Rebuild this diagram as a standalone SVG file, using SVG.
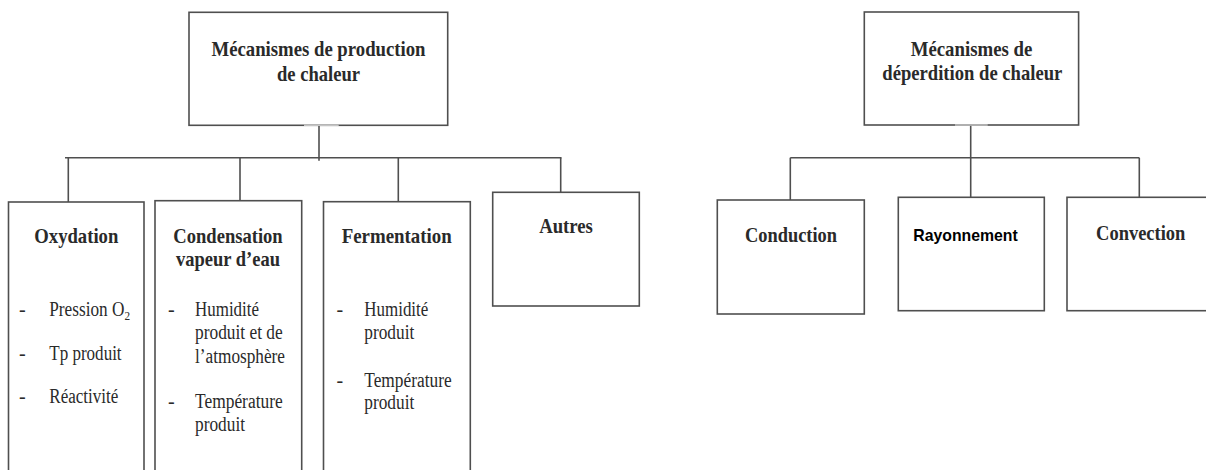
<svg xmlns="http://www.w3.org/2000/svg" width="1206" height="470" viewBox="0 0 1206 470">
<style>
.box{fill:#fff;stroke:#4f4f4f;stroke-width:1.6}
.con line{stroke:#4f4f4f;stroke-width:1.6}
.gap{stroke:#c4c4c4;stroke-width:1.6}
.h{font-family:"Liberation Serif","Times New Roman",serif;font-weight:bold;font-size:22px;fill:#2a2a2a;text-anchor:middle}
.b{font-family:"Liberation Serif","Times New Roman",serif;font-size:20px;fill:#2a2a2a}
.a{font-family:"Liberation Sans",Arial,sans-serif;font-weight:bold;font-size:15.7px;fill:#000}
</style>
<rect width="1206" height="470" fill="#fff"/>
<g id="connectors" class="con">
<line x1="319" y1="125" x2="319" y2="160.7"/>
<line x1="65" y1="157.7" x2="561.5" y2="157.7"/>
<line x1="68.3" y1="157.7" x2="68.3" y2="214"/>
<line x1="240" y1="157.7" x2="240" y2="212.5"/>
<line x1="398.3" y1="157.7" x2="398.3" y2="214"/>
<line x1="560.7" y1="157.7" x2="560.7" y2="212"/>
<line x1="970.7" y1="125" x2="970.7" y2="198.3"/>
<line x1="790.3" y1="157.7" x2="1139.3" y2="157.7"/>
<line x1="790.3" y1="157.7" x2="790.3" y2="200"/>
<line x1="1139.3" y1="157.7" x2="1139.3" y2="199.3"/>
</g>
<g id="prod">
<rect class="box" x="189" y="12.3" width="258.7" height="113"/>
<line class="gap" x1="304" y1="125.3" x2="338.7" y2="125.3"/>
<text class="h" x="318.5" y="56" textLength="214" lengthAdjust="spacingAndGlyphs">Mécanismes de production</text>
<text class="h" x="318.5" y="81" textLength="83" lengthAdjust="spacingAndGlyphs">de chaleur</text>
</g>
<g id="perd">
<rect class="box" x="864.3" y="12" width="214.3" height="113"/>
<line class="gap" x1="955" y1="125" x2="987.7" y2="125"/>
<text class="h" x="971.5" y="56" textLength="121.7" lengthAdjust="spacingAndGlyphs">Mécanismes de</text>
<text class="h" x="972.3" y="80" textLength="180" lengthAdjust="spacingAndGlyphs">déperdition de chaleur</text>
</g>
<g id="oxydation">
<rect class="box" x="8.5" y="202" width="135.5" height="300"/>
<text class="h" x="76.3" y="243" textLength="84" lengthAdjust="spacingAndGlyphs">Oxydation</text>
<text class="b" x="19" y="316">-</text>
<text class="b" x="49.3" y="316" textLength="80.7" lengthAdjust="spacingAndGlyphs">Pression O<tspan font-size="13" dy="4">2</tspan></text>
<text class="b" x="19" y="360">-</text>
<text class="b" x="49.3" y="360" textLength="72.3" lengthAdjust="spacingAndGlyphs">Tp produit</text>
<text class="b" x="19" y="403.3">-</text>
<text class="b" x="49.3" y="403.3" textLength="69" lengthAdjust="spacingAndGlyphs">Réactivité</text>
</g>
<g id="condensation">
<rect class="box" x="155" y="200.7" width="146.7" height="300"/>
<text class="h" x="228" y="243" textLength="109.3" lengthAdjust="spacingAndGlyphs">Condensation</text>
<text class="h" x="228" y="266" textLength="104" lengthAdjust="spacingAndGlyphs">vapeur d’eau</text>
<text class="b" x="168" y="316">-</text>
<text class="b" x="195" y="316" textLength="64" lengthAdjust="spacingAndGlyphs">Humidité</text>
<text class="b" x="195" y="339.3" textLength="87.7" lengthAdjust="spacingAndGlyphs">produit et de</text>
<text class="b" x="195" y="363.3" textLength="90" lengthAdjust="spacingAndGlyphs">l’atmosphère</text>
<text class="b" x="168" y="408.3">-</text>
<text class="b" x="195" y="408.3" textLength="87.7" lengthAdjust="spacingAndGlyphs">Température</text>
<text class="b" x="195" y="430.7" textLength="50" lengthAdjust="spacingAndGlyphs">produit</text>
</g>
<g id="fermentation">
<rect class="box" x="323.5" y="201.7" width="146.8" height="300"/>
<text class="h" x="396.7" y="243" textLength="110" lengthAdjust="spacingAndGlyphs">Fermentation</text>
<text class="b" x="336.5" y="316">-</text>
<text class="b" x="364.3" y="316" textLength="64" lengthAdjust="spacingAndGlyphs">Humidité</text>
<text class="b" x="364.3" y="338.7" textLength="50" lengthAdjust="spacingAndGlyphs">produit</text>
<text class="b" x="336.5" y="386.7">-</text>
<text class="b" x="364.3" y="386.7" textLength="87.3" lengthAdjust="spacingAndGlyphs">Température</text>
<text class="b" x="364.3" y="408.7" textLength="50" lengthAdjust="spacingAndGlyphs">produit</text>
</g>
<g id="autres">
<rect class="box" x="492.7" y="192.3" width="146.6" height="113.7"/>
<text class="h" x="566" y="233.3" textLength="53.7" lengthAdjust="spacingAndGlyphs">Autres</text>
</g>
<g id="conduction">
<rect class="box" x="717.3" y="200" width="147" height="114"/>
<text class="h" x="791" y="242" textLength="92" lengthAdjust="spacingAndGlyphs">Conduction</text>
</g>
<g id="rayonnement">
<rect class="box" x="898.3" y="197.3" width="146" height="113.4"/>
<text class="a" x="913.3" y="240.7" textLength="104.4" lengthAdjust="spacingAndGlyphs">Rayonnement</text>
</g>
<g id="convection">
<rect class="box" x="1067" y="197.3" width="160" height="113.4"/>
<text class="h" x="1140.7" y="240" textLength="89.3" lengthAdjust="spacingAndGlyphs">Convection</text>
</g>
</svg>
